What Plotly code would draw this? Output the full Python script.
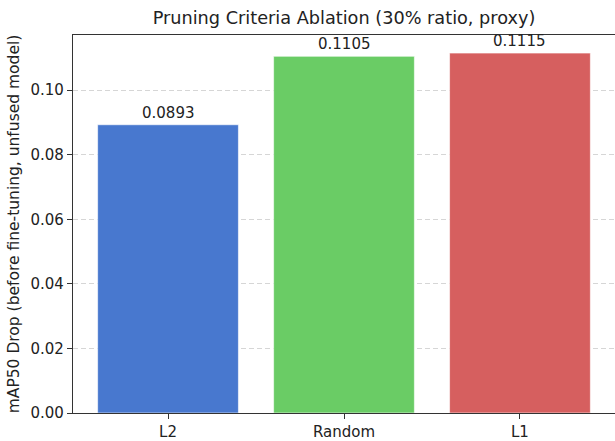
import plotly.graph_objects as go

# Pruning criteria and their mAP50 drop before fine-tuning
criteria = ["L2", "Random", "L1"]
map50_drop = [0.0893, 0.1105, 0.1115]
bar_colors = ["#4878CF", "#6ACC65", "#D65F5F"]
y_ticks = [0.00, 0.02, 0.04, 0.06, 0.08, 0.10]

font_family = "DejaVu Sans"

fig = go.Figure()
fig.add_trace(go.Bar(
    x=list(range(len(criteria))),
    y=map50_drop,
    width=0.8,
    marker=dict(color=bar_colors, line=dict(color="rgba(255,255,255,0.6)", width=1)),
    hoverinfo="skip",
))

# value labels above each bar
for i, v in enumerate(map50_drop):
    fig.add_annotation(
        x=i, y=v, text=f"{v:.4f}", showarrow=False,
        yanchor="bottom", yshift=1,
        font=dict(family=font_family, size=15, color="#222"),
    )

fig.update_layout(
    width=615, height=441,
    margin=dict(l=73, r=0, t=35, b=28),
    plot_bgcolor="white", paper_bgcolor="white",
    showlegend=False,
    font=dict(family=font_family, size=15, color="#222"),
    title=dict(
        text="Pruning Criteria Ablation (30% ratio, proxy)",
        x=0.5, xanchor="center", xref="paper",
        y=1 - 18 / 441, yanchor="middle",
        font=dict(family=font_family, size=17.7, color="#222"),
    ),
)

fig.update_xaxes(
    range=[-0.54, 2.54],
    tickmode="array", tickvals=list(range(len(criteria))), ticktext=criteria,
    showline=True, linecolor="#333", linewidth=1.2, mirror=True,
    ticks="outside", ticklen=5, tickcolor="#333",
    tickfont=dict(size=15),
    showgrid=False, zeroline=False,
)
fig.update_yaxes(
    range=[0, 0.1171],
    tickmode="array", tickvals=y_ticks, ticktext=[f"{t:.2f}" for t in y_ticks],
    showline=True, linecolor="#333", linewidth=1.2,
    ticks="outside", ticklen=5, tickcolor="#333",
    tickfont=dict(size=15),
    showgrid=True, gridcolor="#d6d6d6", griddash="5px,3px", gridwidth=1,
    zeroline=False,
    title=dict(text="mAP50 Drop (before fine-tuning, unfused model)",
               font=dict(family=font_family, size=15.5, color="#222"), standoff=7),
)

fig.write_html("out.html")
